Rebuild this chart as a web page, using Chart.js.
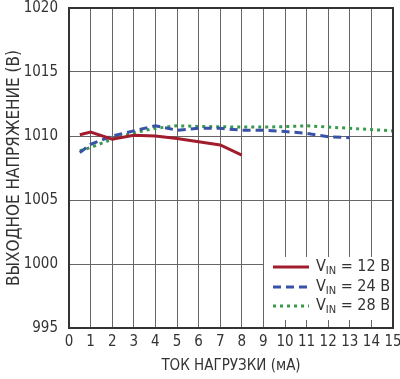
<!DOCTYPE html>
<html>
<head>
<meta charset="utf-8">
<script src="https://cdn.jsdelivr.net/npm/chart.js@4/dist/chart.umd.min.js"></script>
<style>
  html, body { margin: 0; padding: 0; background: #fff; }
  #wrap { width: 400px; height: 379px; }
</style>
</head>
<body>
<div id="wrap"><canvas id="c"></canvas></div>
<script>
const FONT = '"Liberation Sans Narrow", "DejaVu Sans Condensed", "Liberation Sans", sans-serif';

// data
const xVin12 = [0.5, 1, 2, 3, 4, 5, 6, 7, 8];
const yVin12 = [1010.1, 1010.3, 1009.75, 1010.05, 1010.0, 1009.8, 1009.55, 1009.3, 1008.5];
const xVin24 = [0.5, 1, 2, 3, 4, 5, 6, 7, 8, 9, 10, 11, 12, 13];
const yVin24 = [1008.7, 1009.35, 1010.0, 1010.4, 1010.8, 1010.45, 1010.6, 1010.6, 1010.45, 1010.45, 1010.35, 1010.2, 1009.95, 1009.87];
const xVin28 = [0.5, 1, 2, 3, 4, 5, 6, 7, 8, 9, 10, 11, 12, 13, 14, 15];
const yVin28 = [1008.85, 1009.1, 1009.75, 1010.25, 1010.6, 1010.8, 1010.75, 1010.72, 1010.7, 1010.7, 1010.73, 1010.8, 1010.7, 1010.6, 1010.5, 1010.4];
const legendLabels = ['12 B', '24 B', '28 B'];

const xTitle = 'ТОК НАГРУЗКИ (мА)';
const yTitle = 'ВЫХОДНОЕ НАПРЯЖЕНИЕ (В)';

const colors = ['#a11d2e', '#3752a6', '#3a9a4c'];
const dashes = [[], [8, 5], [3, 4]];

function pts(xs, ys) { return xs.map((x, i) => ({ x, y: ys[i] })); }

// frame + legend box with subscripts
const framePlugin = {
  id: 'frame',
  afterDatasetsDraw(chart) {
    const { ctx, chartArea: a } = chart;
    ctx.save();
    const bx = 264, by = 257, bw = a.right - 264, bh = 63;
    ctx.fillStyle = '#fff';
    ctx.fillRect(bx, by, bw, bh);
    const rows = [267, 287, 306];
    rows.forEach((ry, i) => {
      ctx.strokeStyle = colors[i];
      ctx.lineWidth = 3;
      ctx.setLineDash(dashes[i]);
      ctx.beginPath();
      ctx.moveTo(273, ry);
      ctx.lineTo(309, ry);
      ctx.stroke();
      ctx.setLineDash([]);
      ctx.fillStyle = '#333';
      ctx.textBaseline = 'middle';
      ctx.textAlign = 'left';
      ctx.font = '16px ' + FONT;
      let x = 316;
      ctx.fillText('V', x, ry);
      x += ctx.measureText('V').width;
      ctx.font = '11px ' + FONT;
      ctx.fillText('IN', x, ry + 4);
      x += ctx.measureText('IN').width;
      ctx.font = '16px ' + FONT;
      ctx.fillText(' = ' + legendLabels[i], x, ry);
    });
    ctx.strokeStyle = '#333';
    ctx.lineWidth = 2;
    ctx.strokeRect(a.left, a.top, a.right - a.left, a.bottom - a.top);
    ctx.restore();
  }
};

new Chart(document.getElementById('c'), {
  type: 'line',
  data: {
    datasets: [
      { label: '12', data: pts(xVin12, yVin12), borderColor: colors[0], borderWidth: 3, pointRadius: 0, fill: false, tension: 0 },
      { label: '24', data: pts(xVin24, yVin24), borderColor: colors[1], borderWidth: 3, borderDash: dashes[1], pointRadius: 0, fill: false, tension: 0 },
      { label: '28', data: pts(xVin28, yVin28), borderColor: colors[2], borderWidth: 3, borderDash: dashes[2], pointRadius: 0, fill: false, tension: 0 }
    ]
  },
  options: {
    responsive: true, maintainAspectRatio: false, animation: false,
    layout: { padding: { left: 0, top: 8, right: 7, bottom: 0 } },
    plugins: { legend: { display: false }, tooltip: { enabled: false } },
    scales: {
      x: {
        type: 'linear', min: 0, max: 15,
        grid: { color: '#666', lineWidth: 1, drawTicks: false },
        border: { display: false },
        ticks: { stepSize: 1, color: '#333', font: { family: FONT, size: 15 }, padding: 5, maxRotation: 0 },
        title: { display: true, text: xTitle, color: '#333', font: { family: FONT, size: 15 }, padding: { top: 3 } },
        afterFit(s) { s.height = 51; s.paddingLeft = 0; s.paddingRight = 0; }
      },
      y: {
        min: 995, max: 1020,
        grid: { color: '#666', lineWidth: 1, drawTicks: false },
        border: { display: false },
        ticks: { stepSize: 5, color: '#333', font: { family: FONT, size: 15 }, padding: 11, callback: v => String(v) },
        title: { display: true, text: yTitle, color: '#333', font: { family: FONT, size: 17 }, padding: { bottom: 0 } },
        afterFit(s) { s.width = 69; s.paddingTop = 0; s.paddingBottom = 0; }
      }
    }
  },
  plugins: [framePlugin]
});
</script>
</body>
</html>
